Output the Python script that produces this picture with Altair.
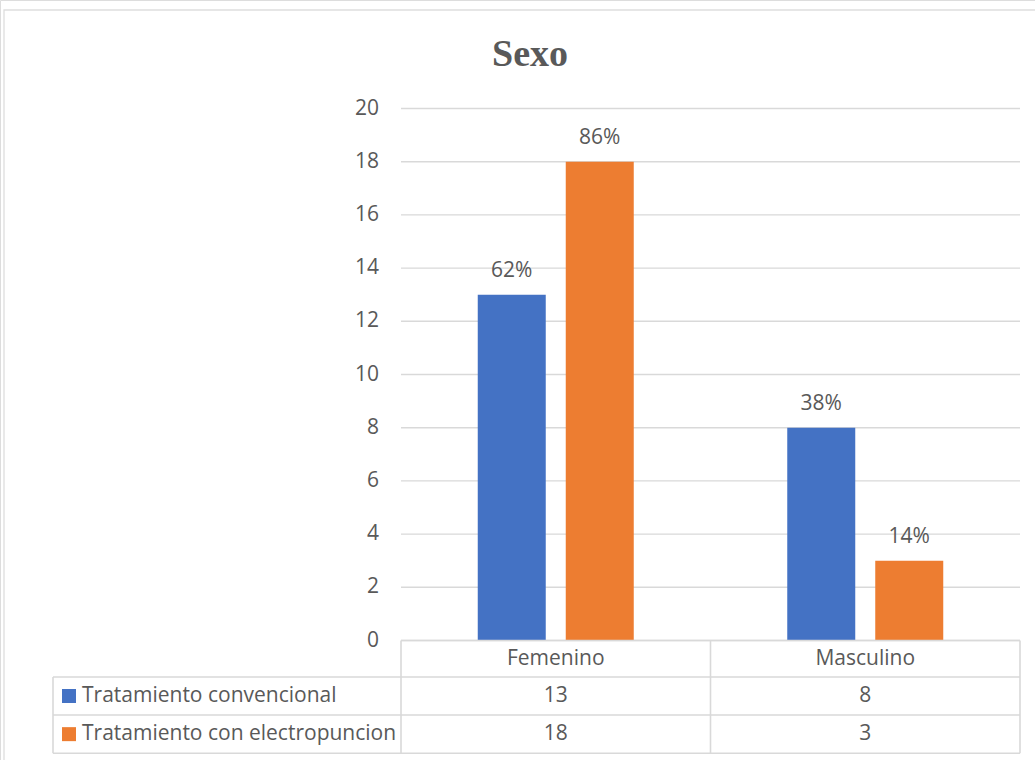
import altair as alt
import pandas as pd

# ---- data -------------------------------------------------------------
categories = ["Femenino", "Masculino"]
series = ["Tratamiento convencional", "Tratamiento con electropuncion"]
convencional = [13, 8]
electropuncion = [18, 3]
pct_convencional = ["62%", "38%"]
pct_electropuncion = ["86%", "14%"]
y_ticks = [0, 2, 4, 6, 8, 10, 12, 14, 16, 18, 20]
colors = ["#4472C4", "#ED7D31"]

# ---- layout (scale units: one category = 1 on x, one count = 1 on y) ----
W, H = 1035, 760
PX_X = 309.5          # pixels per category on x
PX_Y = 26.6           # pixels per count on y
X0_PX, Y0_PX = 401, 640.5
x_dom = [-X0_PX / PX_X, (W - X0_PX) / PX_X]
y_dom = [-(H - Y0_PX) / PX_Y, Y0_PX / PX_Y]

BAR_OFF = 44 / PX_X   # half distance between bar centres
BAR_HALF = 34 / PX_X  # half bar width
TABLE_LEFT = -348 / PX_X
ROWS = [0, -36.5 / PX_Y, -74.5 / PX_Y, -112.8 / PX_Y]  # table row boundaries
KEY_X = -332 / PX_X
LABEL_X = -319 / PX_X

FONT = "Open Sans"
FS = 21
TXT = "#595959"
LINE = "#D9D9D9"

xs = alt.Scale(domain=x_dom, nice=False, zero=False)
ys = alt.Scale(domain=y_dom, nice=False, zero=False)
cs = alt.Scale(domain=series, range=colors)

# bars
bar_rows = []
for i, c in enumerate(categories):
    for s, vals, pcts, off in [
        (series[0], convencional, pct_convencional, -BAR_OFF),
        (series[1], electropuncion, pct_electropuncion, BAR_OFF),
    ]:
        cx = i + 0.5 + off
        bar_rows.append(dict(cat=c, serie=s, value=vals[i], pct=pcts[i],
                             cx=cx, x0=cx - BAR_HALF, x1=cx + BAR_HALF, base=0))
bars_df = pd.DataFrame(bar_rows)

# gridlines and y labels
grid_df = pd.DataFrame({"v": y_ticks, "x0": 0, "x1": 2})

# table lines
hlines = [
    (ROWS[0], 0, 2),
    (ROWS[1], TABLE_LEFT, 2),
    (ROWS[2], TABLE_LEFT, 2),
    (ROWS[3], TABLE_LEFT, 2),
]
vlines = [
    (TABLE_LEFT, ROWS[1], ROWS[3]),
    (0, ROWS[0], ROWS[3]),
    (1, ROWS[0], ROWS[3]),
    (2, ROWS[0], ROWS[3]),
]
tl = [dict(x0=a, x1=b, y0=y, y1=y) for y, a, b in hlines] + \
     [dict(x0=x, x1=x, y0=a, y1=b) for x, a, b in vlines]
table_lines_df = pd.DataFrame(tl)

# table texts
mid = lambda a, b: (a + b) / 2
head_df = pd.DataFrame({"t": categories, "x": [0.5, 1.5], "y": mid(ROWS[0], ROWS[1])})
cell_rows = []
for i in range(2):
    cell_rows.append(dict(t=str(convencional[i]), x=i + 0.5, y=mid(ROWS[1], ROWS[2])))
    cell_rows.append(dict(t=str(electropuncion[i]), x=i + 0.5, y=mid(ROWS[2], ROWS[3])))
cells_df = pd.DataFrame(cell_rows)
names_df = pd.DataFrame({"serie": series, "x": LABEL_X, "kx": KEY_X,
                         "y": [mid(ROWS[1], ROWS[2]), mid(ROWS[2], ROWS[3])]})

title_df = pd.DataFrame({"t": ["Sexo"], "x": [(530 - X0_PX) / PX_X], "y": [(Y0_PX - 66) / PX_Y]})
frame_df = pd.DataFrame({"x0": [(4 - X0_PX) / PX_X], "x1": [(W + 10 - X0_PX) / PX_X],
                         "y0": [(Y0_PX - 10) / PX_Y], "y1": [y_dom[0] - 1]})

X = lambda f: alt.X(f, type="quantitative", scale=xs, axis=None)
Y = lambda f: alt.Y(f, type="quantitative", scale=ys, axis=None)

frame = alt.Chart(frame_df).mark_rect(fill="white", stroke="#DEDEDE", strokeWidth=1.3).encode(
    x=X("x0"), x2="x1", y=Y("y0"), y2="y1")

grid = alt.Chart(grid_df).mark_rule(color=LINE, strokeWidth=1.4).encode(
    x=X("x0"), x2="x1", y=Y("v"))

ylabels = alt.Chart(grid_df).mark_text(
    align="right", baseline="middle", dx=-22, font=FONT, fontSize=FS, color=TXT
).encode(x=X("x0"), y=Y("v"), text="v:Q")

bars = alt.Chart(bars_df).mark_rect().encode(
    x=X("x0"), x2="x1", y=Y("base"), y2="value",
    color=alt.Color("serie:N", scale=cs, legend=None))

pct = alt.Chart(bars_df).mark_text(
    baseline="alphabetic", dy=-18, font=FONT, fontSize=FS, color=TXT
).encode(x=X("cx"), y=Y("value"), text="pct:N")

tlines = alt.Chart(table_lines_df).mark_rule(color=LINE, strokeWidth=1.6).encode(
    x=X("x0"), x2="x1", y=Y("y0"), y2="y1")

heads = alt.Chart(head_df).mark_text(
    baseline="middle", font=FONT, fontSize=FS, color=TXT
).encode(x=X("x"), y=Y("y"), text="t:N")

cells = alt.Chart(cells_df).mark_text(
    baseline="middle", font=FONT, fontSize=FS, color=TXT
).encode(x=X("x"), y=Y("y"), text="t:N")

keys = alt.Chart(names_df).mark_square(size=196, opacity=1).encode(
    x=X("kx"), y=Y("y"), color=alt.Color("serie:N", scale=cs, legend=None))

names = alt.Chart(names_df).mark_text(
    align="left", baseline="middle", font=FONT, fontSize=FS, color=TXT
).encode(x=X("x"), y=Y("y"), text="serie:N")

title = alt.Chart(title_df).mark_text(
    baseline="alphabetic", font="Liberation Serif", fontWeight="bold", fontSize=38, color=TXT
).encode(x=X("x"), y=Y("y"), text="t:N")

chart = alt.layer(
    frame, grid, ylabels, bars, pct, tlines, heads, cells, keys, names, title
).properties(
    width=W, height=H, padding=0, autosize=alt.AutoSizeParams(type="none")
).configure_view(strokeWidth=0).configure(background="white")

chart.save("out.html", embed_options={"renderer": "svg", "actions": False})
